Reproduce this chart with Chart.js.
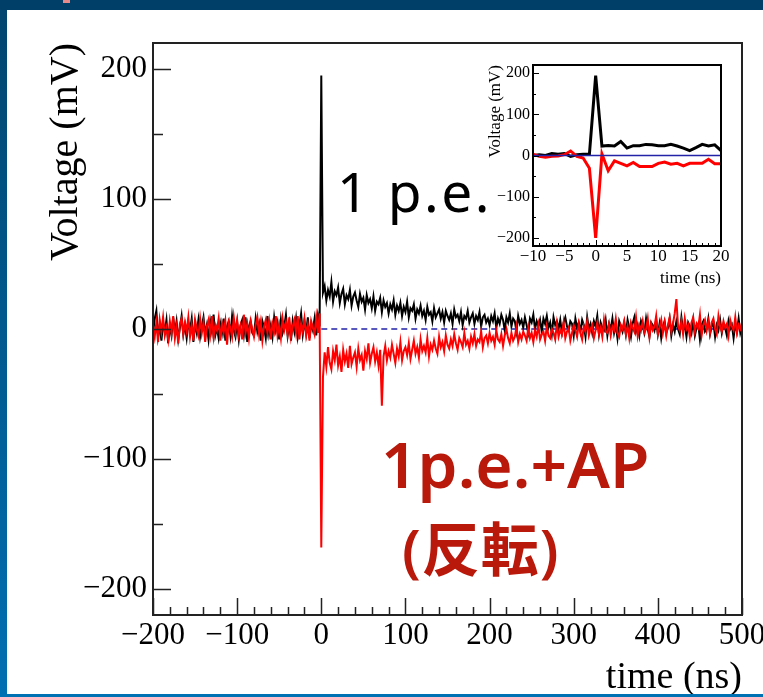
<!DOCTYPE html>
<html>
<head>
<meta charset="utf-8">
<script src="https://cdn.jsdelivr.net/npm/chart.js@4.4.1/dist/chart.umd.min.js"></script>
<style>
  html, body { margin: 0; padding: 0; }
  body { width: 763px; height: 697px; position: relative; overflow: hidden; background: #fff; }
  canvas { position: absolute; }
  #main { left: 0; top: 0; }
  #inset { left: 470px; top: 55px; }
  .bar { position: absolute; }
  #topbar { left: 0; top: 0; width: 763px; height: 10px; background: #003f68; }
  #leftbar { left: 0; top: 10px; width: 7px; height: 687px; background: linear-gradient(#00466f, #0070b2); }
  #bottombar { left: 0; top: 694px; width: 763px; height: 3px; background: #0072b4; }
  #mark { left: 63px; top: 0; width: 7px; height: 3px; background: #e88a8a; }
  .note { position: absolute; white-space: nowrap; line-height: 1;
          font-family: "Noto Sans", "Noto Sans CJK JP", sans-serif; }
</style>
</head>
<body>
<canvas id="main" width="763" height="697"></canvas>
<canvas id="inset" width="260" height="240"></canvas>
<div class="note" style="left:337px;top:163px;font-size:55px;letter-spacing:2.5px;color:#000;">1 p.e.</div>
<div class="note" style="left:381px;top:432px;font-size:64px;color:#b8190b;font-weight:600;">1p.e.+AP</div>
<div class="note" style="left:402px;top:520px;font-size:58px;letter-spacing:1px;color:#b8190b;font-weight:600;">(反転)</div>
<div class="bar" id="topbar"></div>
<div class="bar" id="mark"></div>
<div class="bar" id="leftbar"></div>
<div class="bar" id="bottombar"></div>

<script>
// main waveform: one sample every 2 ns starting at -200 ns
const mainStart = -200;
const mainStep = 2;

// 1 p.e. (mV)
const blackTrace = [
  -4, 8, 14, -6, 3, -9, 5, -2, 7, -11,
  2, -5, 9, -3, 6, -8, 1, 10, -4, 3,
  -7, 5, -1, 8, -10, 4, -3, 7, -6, 2,
  9, -4, 3, -8, 6, -2, 11, -5, 1, -7,
  4, -3, 8, -9, 2, 6, -5, 10, -1, -6,
  5, -8, 3, 7, -4, 9, -10, 2, 6, -3,
  -5, 8, -2, 4, -9, 6, 1, -7, 10, -4,
  3, -6, 9, -1, 5, -8, 7, -3, 2, 11,
  -5, 4, -9, 6, -2, 8, -6, 3, 12, -4,
  6, -3, 9, -7, 4, -1, 8, -5, 10, 2,
  195,
  28, 33, 22, 30, 25, 36, 21, 29, 26, 32,
  20, 27, 31, 19, 26, 23, 30, 18, 25, 28,
  22, 17, 27, 21, 24, 15, 26, 20, 23, 16,
  25, 14, 21, 19, 24, 13, 22, 17, 20, 12,
  19, 15, 22, 11, 18, 14, 20, 10, 17, 13,
  21, 9, 16, 14, 19, 8, 15, 12, 18, 10,
  14, 7, 17, 11, 13, 6, 16, 9, 12, 15,
  8, 13, 5, 14, 10, 7, 12, 4, 15, 9,
  11, 6, 13, 3, 10, 8, 14, 5, 9, 12,
  4, 10, 7, 13, 2, 9, 11, 5, 8, 3,
  10, 6, 12, 1, 8, 4, 11, 7, -1, 9,
  5, 12, 2, 8, 6, -2, 10, 4, 7, 1,
  9, 3, -3, 8, 5, 11, 0, 6, 2, 7,
  -2, 8, 4, 10, 1, 5, -4, 9, 3, 6,
  0, 7, -3, 5, 9, 2, -1, 6, 4, -5,
  8, 1, 5, -2, 7, 3, -6, 9, 0, 4,
  -3, 6, 2, 10, -4, 5, 1, -1, 7, -5,
  4, 0, 8, -3, 3, -7, 6, 2, -2, 5,
  -4, 7, 1, -6, 4, 9, -2, 3, -5, 6,
  2, -3, 8, 0, -6, 5, 3, -1, 7, -4,
  4, -7, 2, 6, -3, 1, 8, -5, 3, -2,
  6, 0, -4, 9, -1, 3, -6, 5, 2, -3,
  7, -5, 1, 4, -8, 3, 6, -2, 0, 8,
  -4, 2, 5, -6, 3, -1, 7, -3, 4, 1,
  -5, 6, 0, 3, -7, 4, -2, 8, -3, 2
];

// 1 p.e. + afterpulse, inverted (mV)
const redTrace = [
  3, -6, 5, -10, 7, -2, 9, -5, 1, -8,
  6, -3, 10, -7, 2, -11, 4, 8, -4, 5,
  -2, 9, -6, 3, -9, 7, 0, -5, 8, -3,
  5, -10, 2, 7, -4, 10, -6, 3, -1, 8,
  -9, 4, -3, 6, -12, 5, 1, -6, 9, -2,
  7, -5, 2, -8, 11, -3, 4, -7, 6, 0,
  -6, 3, 9, -4, 5, -9, 2, 7, -3, 6,
  -8, 4, -2, 10, -5, 3, -7, 8, -1, 5,
  -4, 9, -6, 2, 7, -3, 10, -8, 4, -2,
  8, -5, 3, -9, 6, 1, -4, 9, -3, 12,
  -168,
  -37, -18, -29, -14, -26, -31, -17, -24, -12, -28,
  -21, -33, -16, -25, -19, -30, -13, -27, -22, -18,
  -29, -15, -24, -20, -32, -17, -23, -11, -26, -19,
  -14, -25, -18, -28, -16, -59, -21, -13, -24, -17,
  -22, -12, -19, -26, -15, -21, -10, -24, -17, -14,
  -20, -11, -23, -16, -9, -19, -14, -22, -8, -17,
  -13, -18, -7, -21, -12, -16, -9, -15, -19, -6,
  -14, -10, -17, -5, -12, -15, -8, -13, -4, -11,
  -16, -7, -10, -14, -3, -12, -9, -15, -6, -11,
  -4, -13, -8, -10, -2, -14, -7, -5, -11, -3,
  -9, -6, -12, -1, -8, -10, -4, -13, -5, 0,
  -7, -11, -3, -9, -6, 2, -10, -4, -8, -2,
  -5, -9, 1, -7, -3, -10, -1, -6, 3, -8,
  -4, -2, -9, 2, -5, -7, 0, -3, -8, 4,
  -6, -1, -4, 5, -7, -2, 1, -9, -3, 3,
  -1, -6, 4, -3, -8, 2, -2, 6, -5, 0,
  3, -7, -1, 5, -4, 1, -6, 7, -2, -3,
  4, -5, 2, -1, 8, -3, -6, 3, 0, 6,
  -4, 2, -7, 5, 1, -2, 9, -5, 3, -1,
  6, -3, 0, 8, -6, 4, -1, 2, 10, -4,
  1, 7, -3, 5, -5, 3, 9, -2, 4, 12,
  23, 2, -1, 6, -4, 8, 0, 3, -6, 5,
  9, -2, 4, 1, 11, -5, 3, 7, -1, 6,
  -3, 5, 8, 0, -4, 10, 2, -2, 6, 1,
  4, -5, 7, 2, -1, 9, -3, 3, 0, 5
];

const baseTime = [0, 500];
const baseLevel = [0, 0];

// inset, 1 ns samples
const insetTime = [-10, -9, -8, -7, -6, -5, -4, -3, -2, -1, 0, 1, 2, 3, 4, 5, 6, 7, 8, 9, 10,
                   11, 12, 13, 14, 15, 16, 17, 18, 19, 20];
const insetBlack = [0, 2, 0, 5, 3, 5, -2, 2, 3, 3, 194, 23, 24, 23, 34, 18, 24, 24, 27, 26, 24,
                    24, 27, 23, 18, 12, 19, 27, 23, 26, 12];
const insetRed = [3, -2, -4, -2, -1, 2, 11, -2, -6, -31, -200, 4, -37, -13, -19, -25, -17, -27, -27, -27, -19,
                  -16, -21, -19, -25, -19, -19, -19, -9, -20, -20];
const insetBaseTime = [-10, 20];

const mainXTicks = [-200, -100, 0, 100, 200, 300, 400, 500];
const mainYTicks = [-200, -100, 0, 100, 200];
const insetXTicks = [-10, -5, 0, 5, 10, 15, 20];
const insetYTicks = [-200, -100, 0, 100, 200];

Chart.defaults.font.family = "'Liberation Serif', 'DejaVu Serif', serif";
Chart.defaults.color = '#000';

const fmt = v => String(v).replace('-', '\u2212');
const sampled = arr => arr.map((v, i) => ({ x: mainStart + i * mainStep, y: v }));
const pairs = (xs, ys) => xs.map((x, i) => ({ x: x, y: ys[i] }));

// ROOT-like frame with ticks pointing inwards
const frameTicks = {
  id: 'frameTicks',
  afterDatasetsDraw(chart, args, o) {
    const { ctx, chartArea: a, scales: { x, y } } = chart;
    ctx.save();
    ctx.strokeStyle = o.color;
    ctx.lineWidth = o.tickWidth;
    ctx.beginPath();
    for (let v = x.min; v <= x.max + 1e-6; v += o.xMinor) {
      const len = Math.abs(v / o.xMajor - Math.round(v / o.xMajor)) < 1e-6 ? o.xMajorLen : o.xMinorLen;
      const px = Math.round(x.getPixelForValue(v)) + 0.5;
      ctx.moveTo(px, a.bottom);
      ctx.lineTo(px, a.bottom - len);
    }
    for (let v = -200; v <= 200 + 1e-6; v += o.yMinor) {
      const len = Math.abs(v / o.yMajor - Math.round(v / o.yMajor)) < 1e-6 ? o.yMajorLen : o.yMinorLen;
      const py = Math.round(y.getPixelForValue(v)) + 0.5;
      ctx.moveTo(a.left, py);
      ctx.lineTo(a.left + len, py);
    }
    ctx.stroke();
    ctx.lineWidth = o.frameWidth;
    ctx.strokeRect(a.left, a.top, a.right - a.left, a.bottom - a.top);
    ctx.restore();
  }
};

function axes(c) {
  return {
    x: {
      type: 'linear', min: c.xMin, max: c.xMax,
      afterBuildTicks: s => { s.ticks = c.xTicks.map(v => ({ value: v })); },
      afterFit: s => { s.height = c.xHeight; s.paddingLeft = 0; s.paddingRight = 0; },
      grid: { display: false, drawTicks: false }, border: { display: false },
      ticks: { font: { size: c.tickSize }, padding: c.xPad, maxRotation: 0, autoSkip: false, callback: fmt },
      title: { display: true, text: 'time (ns)', align: 'end', font: { size: c.titleSize, lineHeight: 1 },
               padding: { top: 0, bottom: c.xTitlePad } }
    },
    y: {
      type: 'linear', min: -220, max: 220,
      afterBuildTicks: s => { s.ticks = c.yTicks.map(v => ({ value: v })); },
      afterFit: s => { s.width = c.yWidth; s.paddingTop = 0; s.paddingBottom = 0; },
      grid: { display: false, drawTicks: false }, border: { display: false },
      ticks: { font: { size: c.yTickSize }, padding: c.yPad, autoSkip: false, callback: fmt },
      title: { display: true, text: 'Voltage (mV)', align: 'end', font: { size: c.yTitleSize, lineHeight: 1 },
               padding: { top: c.yTitlePad, bottom: 0 } }
    }
  };
}

new Chart(document.getElementById('main'), {
  type: 'line',
  data: {
    datasets: [
      { label: '1p.e.+AP', data: sampled(redTrace), borderColor: '#ff0000', borderWidth: 2 },
      { label: '1 p.e.', data: sampled(blackTrace), borderColor: '#000000', borderWidth: 2 },
      { label: 'baseline', data: pairs(baseTime, baseLevel), borderColor: '#2323a8', borderWidth: 1.5, borderDash: [6, 4] }
    ]
  },
  options: {
    responsive: false, animation: false,
    elements: { point: { radius: 0 }, line: { tension: 0 } },
    layout: { padding: { left: 0, top: 43, right: 21, bottom: 0 } },
    plugins: {
      legend: { display: false }, tooltip: { enabled: false },
      frameTicks: { color: '#222', tickWidth: 1.5, frameWidth: 2,
                    xMinor: 20, xMajor: 100, xMajorLen: 17, xMinorLen: 8,
                    yMinor: 50, yMajor: 100, yMajorLen: 18, yMinorLen: 10 }
    },
    scales: axes({ xMin: -200, xMax: 500, xTicks: mainXTicks, yTicks: mainYTicks,
                   xHeight: 82, yWidth: 153, tickSize: 31, yTickSize: 31, titleSize: 38, yTitleSize: 40,
                   xPad: 2, yPad: 6, xTitlePad: 0, yTitlePad: 46 })
  },
  plugins: [frameTicks]
});

new Chart(document.getElementById('inset'), {
  type: 'line',
  data: {
    datasets: [
      { label: 'zero', data: pairs(insetBaseTime, [0, 0]), borderColor: '#2323a8', borderWidth: 1.5 },
      { label: '1p.e.+AP', data: pairs(insetTime, insetRed), borderColor: '#ff0000', borderWidth: 3 },
      { label: '1 p.e.', data: pairs(insetTime, insetBlack), borderColor: '#000000', borderWidth: 3 }
    ]
  },
  options: {
    responsive: false, animation: false,
    elements: { point: { radius: 0 }, line: { tension: 0 } },
    layout: { padding: { left: 0, top: 10, right: 9, bottom: 0 } },
    plugins: {
      legend: { display: false }, tooltip: { enabled: false },
      frameTicks: { color: '#000', tickWidth: 1, frameWidth: 2,
                    xMinor: 1, xMajor: 5, xMajorLen: 6, xMinorLen: 3,
                    yMinor: 50, yMajor: 100, yMajorLen: 6, yMinorLen: 3 }
    },
    scales: axes({ xMin: -10, xMax: 20, xTicks: insetXTicks, yTicks: insetYTicks,
                   xHeight: 49, yWidth: 63, tickSize: 17, yTickSize: 16, titleSize: 17, yTitleSize: 17,
                   xPad: 0, yPad: 3, xTitlePad: 8, yTitlePad: 17 })
  },
  plugins: [frameTicks]
});
</script>
</body>
</html>
